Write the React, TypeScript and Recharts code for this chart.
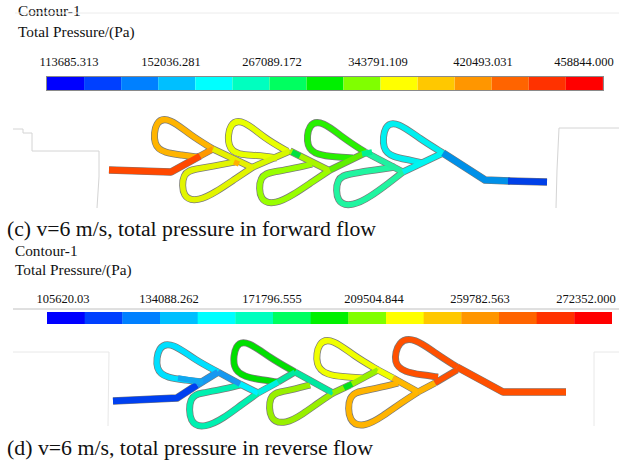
import { Bar, BarChart, Cell, ComposedChart, Line, XAxis, YAxis } from 'recharts';

const W = 619;
const H = 461;

type Pt = [number, number];

const barColors = [
  '#0000ff', '#0040ff', '#0080ff', '#00bfff', '#00ffff', '#00ffbf', '#00ff60', '#00f000',
  '#80ff00', '#ffff00', '#ffc800', '#ff9600', '#ff6400', '#ff3200', '#ff0000',
];
const barSteps = barColors.map((_, i) => ({ step: i, v: 1 }));

const labelsC = ['113685.313', '152036.281', '267089.172', '343791.109', '420493.031', '458844.000'];
const labelXC = [69, 171, 272, 378, 483, 584];
const labelsD = ['105620.03', '134088.262', '171796.555', '209504.844', '259782.563', '272352.000'];
const labelXD = [63, 169, 272, 374, 480, 586];

// wall lines of the domain, light grey in the export
const wallsC: Pt[][] = [
  [[13, 129], [23, 129], [23, 133], [32, 133], [32, 151], [99, 151], [99, 177], [97, 208]],
  [[619, 128], [559, 128], [557, 170], [556, 208]],
];
const wallsD: Pt[][] = [
  [[13, 352], [109, 352], [108, 426]],
  [[619, 352], [594, 352], [594, 426]],
];
const ruleC: Pt[] = [[15, 13], [619, 13]];
const ruleD: Pt[] = [[13, 309], [619, 309]];

// forward flow: teardrop loops (smoothed through these control points)
const loopsC: Pt[][] = [
  [[213, 149], [190, 135], [170, 118], [155, 120], [153, 146], [165, 153], [182, 155], [197, 157]],
  [[235, 162], [214, 166], [196, 169], [182, 172], [182, 199], [199, 201], [216, 192], [235, 179], [253, 167]],
  [[287, 151], [264, 138], [244, 120], [229, 122], [227, 148], [239, 155], [256, 155], [277, 158]],
  [[312, 164], [291, 169], [273, 172], [259, 175], [259, 202], [276, 204], [293, 195], [312, 182], [330, 170]],
  [[365, 152], [343, 138], [323, 121], [308, 123], [306, 148], [318, 155], [335, 157], [353, 158]],
  [[395, 167], [368, 171], [350, 174], [336, 177], [336, 204], [353, 206], [370, 197], [389, 183], [403, 172]],
  [[443, 153], [420, 139], [398, 122], [384, 124], [382, 150], [393, 157], [410, 160], [422, 163]],
];
const loopColorsC = ['#ffb400', '#e2f500', '#e8ff00', '#98ff00', '#28f000', '#20f5a0', '#00f0f0'];
const linksC: Pt[][] = [
  [[200, 156], [213, 149]],
  [[213, 149], [253, 168]],
  [[253, 167], [290, 151]],
  [[290, 151], [330, 171]],
  [[330, 170], [367, 152]],
  [[365, 152], [403, 172]],
  [[403, 172], [443, 153]],
];
const linkColorsC = ['#ff9800', '#e6f000', '#d8f800', '#a8f500', '#60f000', '#20f0a0', '#00f5f0'];
const stemsC: Pt[][] = [
  [[109, 170], [171, 172], [200, 156]],
  [[443, 153], [485, 180], [510, 181]],
  [[508, 181], [547, 182]],
];
const stemColorsC = ['#ff4800', '#0090e8', '#0040e8'];
const patchesC: Pt[][] = [
  [[234, 162], [239, 164]],
  [[292, 152], [300, 156]],
  [[362, 154], [372, 152]],
];
const patchColorsC = ['#ffb000', '#00e040', '#00f090'];

// reverse flow
const loopsD: Pt[][] = [
  [[218, 372], [195, 360], [173, 343], [158, 345], [155, 371], [168, 378], [185, 380], [203, 382]],
  [[240, 385], [220, 390], [202, 393], [189, 396], [189, 424], [205, 428], [224, 418], [241, 405], [258, 393]],
  [[295, 372], [270, 358], [248, 341], [235, 343], [232, 369], [245, 377], [262, 380], [277, 382]],
  [[310, 385], [295, 389], [280, 392], [269, 395], [269, 421], [286, 424], [303, 414], [318, 403], [333, 393]],
  [[378, 370], [354, 356], [333, 339], [318, 341], [315, 366], [327, 375], [345, 377], [362, 378]],
  [[398, 383], [378, 388], [363, 391], [348, 394], [348, 423], [365, 427], [383, 416], [401, 403], [418, 392]],
  [[457, 367], [435, 353], [415, 338], [398, 340], [393, 364], [405, 372], [422, 375], [438, 377]],
];
const loopColorsD = ['#00e0ff', '#00f0b0', '#00e000', '#98f000', '#f0ff00', '#ffb400', '#ff5000'];
const linksD: Pt[][] = [
  [[218, 372], [240, 384]],
  [[240, 384], [258, 393]],
  [[258, 393], [278, 382]],
  [[278, 382], [295, 372]],
  [[295, 372], [333, 393]],
  [[333, 393], [350, 385]],
  [[350, 385], [378, 370]],
  [[378, 370], [393, 378]],
  [[393, 378], [418, 392]],
  [[418, 392], [435, 383]],
  [[435, 383], [457, 370]],
];
const linkColorsD = [
  '#1898f0', '#00f0ff', '#00f0e0', '#00e8a0', '#00e8a0', '#90f000', '#98f000', '#f0ff00', '#ffb800', '#ffb400', '#ff5000',
];
const stemsD: Pt[][] = [
  [[113, 401], [177, 398], [197, 385]],
  [[197, 385], [218, 372]],
  [[457, 367], [503, 392], [566, 392]],
];
const stemColorsD = ['#0040f0', '#1898f0', '#ff5000'];
const patchesD: Pt[][] = [
  [[344, 388], [352, 384]],
  [[178, 378], [203, 382]],
];
const patchColorsD = ['#00e020', '#10a8f0'];

const rows = (pts: Pt[]) => pts.map(([x, y]) => ({ x, y }));

function path(pts: Pt[], stroke: string, width: number, key: string, smooth = false) {
  return (
    <Line
      key={key}
      data={rows(pts)}
      dataKey="y"
      type={smooth ? 'basis' : 'linear'}
      stroke={stroke}
      strokeWidth={width}
      strokeLinejoin="round"
      dot={false}
      activeDot={false}
      legendType="none"
      isAnimationActive={false}
    />
  );
}

function ColorBar({ left, top, width, height, border }: { left: number; top: number; width: number; height: number; border?: string }) {
  return (
    <div style={{ position: 'absolute', left, top, width, height, outline: border }}>
      <BarChart width={width} height={height} data={barSteps} margin={{ left: 0, right: 0, top: 0, bottom: 0 }} barCategoryGap={0}>
        <XAxis dataKey="step" hide />
        <YAxis hide domain={[0, 1]} />
        <Bar dataKey="v" isAnimationActive={false}>
          {barColors.map((c, i) => (
            <Cell key={i} fill={c} />
          ))}
        </Bar>
      </BarChart>
    </div>
  );
}

const serif = '"Liberation Serif", serif';
const edge = '#7a7a7a';

export default function App() {
  return (
    <div style={{ position: 'absolute', left: 0, top: 0, width: W, height: H, background: '#fff', overflow: 'hidden' }}>
      <ComposedChart width={W} height={H} margin={{ left: 0, right: 0, top: 0, bottom: 0 }}>
        <XAxis type="number" dataKey="x" domain={[0, W]} hide allowDataOverflow />
        <YAxis type="number" domain={[0, H]} reversed hide allowDataOverflow />

        {path(ruleC, '#ececec', 1, 'ruleC')}
        {path(ruleD, '#c0c0c0', 1, 'ruleD')}
        {wallsC.map((w, i) => path(w, '#d4d4d4', 1, `wc${i}`))}
        {wallsD.map((w, i) => path(w, '#e8e8e8', 1, `wd${i}`))}

        {loopsC.map((p, i) => path(p, edge, 7, `olc${i}`, true))}
        {linksC.map((p, i) => path(p, edge, 7, `oic${i}`))}
        {stemsC.map((p, i) => path(p, edge, 7.5, `osc${i}`))}
        {loopsD.map((p, i) => path(p, edge, 7, `old${i}`, true))}
        {linksD.map((p, i) => path(p, edge, 7, `oid${i}`))}
        {stemsD.map((p, i) => path(p, edge, 7.5, `osd${i}`))}

        {loopsC.map((p, i) => path(p, loopColorsC[i], 5.5, `lc${i}`, true))}
        {linksC.map((p, i) => path(p, linkColorsC[i], 5.5, `ic${i}`))}
        {stemsC.map((p, i) => path(p, stemColorsC[i], 6.5, `sc${i}`))}
        {patchesC.map((p, i) => path(p, patchColorsC[i], 5.5, `pc${i}`))}
        {loopsD.map((p, i) => path(p, loopColorsD[i], 5.5, `ld${i}`, true))}
        {linksD.map((p, i) => path(p, linkColorsD[i], 5.5, `id${i}`))}
        {stemsD.map((p, i) => path(p, stemColorsD[i], 6.5, `sd${i}`))}
        {patchesD.map((p, i) => path(p, patchColorsD[i], 5.5, `pd${i}`))}

        <g fontFamily={serif} fontSize={15.3} fill="#111">
          <text x={18} y={16}>Contour-1</text>
          <text x={18} y={37}>Total Pressure/(Pa)</text>
          <text x={15} y={256}>Contour-1</text>
          <text x={15} y={275}>Total Pressure/(Pa)</text>
        </g>
        <g fontFamily={serif} fontSize={12.5} fill="#111" textAnchor="middle">
          {labelsC.map((t, i) => (
            <text key={t} x={labelXC[i]} y={66}>{t}</text>
          ))}
          {labelsD.map((t, i) => (
            <text key={t} x={labelXD[i]} y={303}>{t}</text>
          ))}
        </g>
        <g fontFamily={serif} fontSize={20} fill="#111">
          <text x={7} y={236} textLength={369} lengthAdjust="spacingAndGlyphs">
            (c) v=6 m/s, total pressure in forward flow
          </text>
          <text x={7} y={455} textLength={366} lengthAdjust="spacingAndGlyphs">
            (d) v=6 m/s, total pressure in reverse flow
          </text>
        </g>
      </ComposedChart>
      <ColorBar left={47} top={77} width={556} height={13} border="1px solid #8a8a8a" />
      <ColorBar left={47} top={312} width={565} height={12} />
    </div>
  );
}
